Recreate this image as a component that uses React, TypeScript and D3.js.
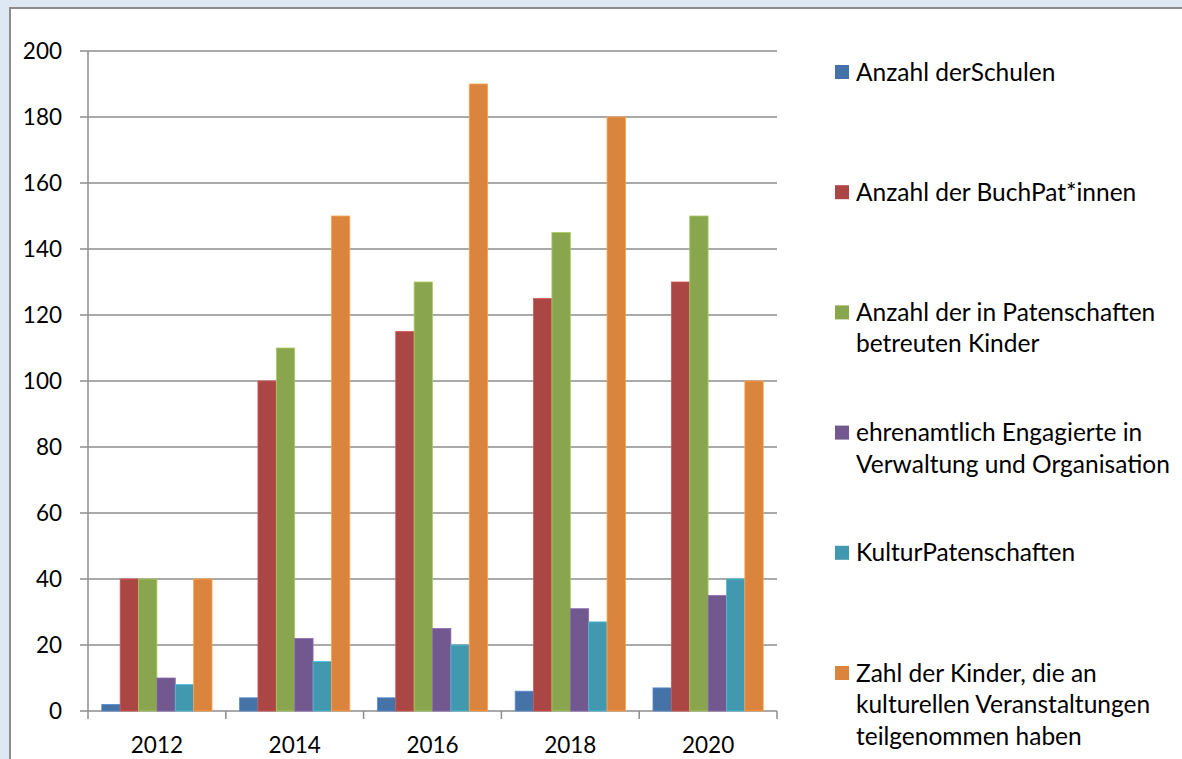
import React, { useRef, useEffect } from 'react';
import * as d3 from 'd3';

const years = ['2012', '2014', '2016', '2018', '2020'];

const seriesNames = [
    ['Anzahl derSchulen'],
    ['Anzahl der BuchPat*innen'],
    ['Anzahl der in Patenschaften', 'betreuten Kinder'],
    ['ehrenamtlich Engagierte in', 'Verwaltung und Organisation'],
    ['KulturPatenschaften'],
    ['Zahl der Kinder, die an', 'kulturellen Veranstaltungen', 'teilgenommen haben'],
];

const seriesColors = ['#4572A7', '#AA4643', '#89A54E', '#71588F', '#4198AF', '#DB843D'];

// one row per series, one value per year
const schulen = [2, 4, 4, 6, 7];
const buchPaten = [40, 100, 115, 125, 130];
const betreuteKinder = [40, 110, 130, 145, 150];
const ehrenamtliche = [10, 22, 25, 31, 35];
const kulturPatenschaften = [8, 15, 20, 27, 40];
const kulturKinder = [40, 150, 190, 180, 100];

const seriesValues = [schulen, buchPaten, betreuteKinder, ehrenamtliche, kulturPatenschaften, kulturKinder];

const yTicks = [0, 20, 40, 60, 80, 100, 120, 140, 160, 180, 200];

const W = 1182;
const H = 759;

const BarChart = () => {
    const svgRef = useRef<SVGSVGElement>(null);

    useEffect(() => {
        const svg = d3.select(svgRef.current);
        svg.selectAll('*').remove();

        const font = 'Lato, "Open Sans", sans-serif';
        const fontSize = 24.5;
        const axisFontSize = 22.5;

        // page background and chart frame
        svg.append('rect').attr('width', W).attr('height', H).attr('fill', '#dde8f3');
        svg.append('rect')
            .attr('x', 10).attr('y', 8)
            .attr('width', W + 20).attr('height', H + 20)
            .attr('fill', '#fff')
            .attr('stroke', '#8c8c8c')
            .attr('stroke-width', 2);

        const left = 88, right = 777, top = 51, bottom = 711;

        const x = d3.scaleBand().domain(years).range([left, right]).paddingInner(0.2).paddingOuter(0.1);
        const xs = d3.scaleBand<number>()
            .domain(d3.range(seriesValues.length))
            .range([0, x.bandwidth()]);
        const y = d3.scaleLinear().domain([0, 200]).range([bottom, top]);

        // gridlines
        svg.append('g')
            .selectAll('line')
            .data(yTicks)
            .join('line')
            .attr('x1', left - 8)
            .attr('x2', right)
            .attr('y1', d => y(d))
            .attr('y2', d => y(d))
            .attr('stroke', '#8c8c8c')
            .attr('stroke-width', 1.5);

        // y axis line
        svg.append('line')
            .attr('x1', left).attr('x2', left)
            .attr('y1', top).attr('y2', bottom)
            .attr('stroke', '#8c8c8c').attr('stroke-width', 1.5);

        // x ticks at band boundaries
        const boundaries = years.map(d => x(d)! - (x.step() - x.bandwidth()) / 2).concat([right]);
        svg.append('g')
            .selectAll('line')
            .data(boundaries)
            .join('line')
            .attr('x1', d => d).attr('x2', d => d)
            .attr('y1', bottom).attr('y2', bottom + 8)
            .attr('stroke', '#8c8c8c').attr('stroke-width', 1.5);

        // y labels
        svg.append('g')
            .selectAll('text')
            .data(yTicks)
            .join('text')
            .attr('x', 62)
            .attr('y', d => y(d))
            .attr('dy', '0.35em')
            .attr('text-anchor', 'end')
            .attr('font-family', font)
            .attr('font-size', axisFontSize)
            .attr('fill', '#000')
            .text(d => d);

        // x labels
        svg.append('g')
            .selectAll('text')
            .data(years)
            .join('text')
            .attr('x', d => x(d)! + x.bandwidth() / 2)
            .attr('y', 745)
            .attr('dy', '0.35em')
            .attr('text-anchor', 'middle')
            .attr('font-family', font)
            .attr('font-size', axisFontSize)
            .attr('fill', '#000')
            .text(d => d);

        // bars
        const groups = svg.append('g')
            .selectAll('g')
            .data(years)
            .join('g')
            .attr('transform', d => `translate(${x(d)},0)`);

        groups.selectAll('rect')
            .data((_, yi) => seriesValues.map((vals, si) => ({ si, v: vals[yi] })))
            .join('rect')
            .attr('x', d => xs(d.si)!)
            .attr('y', d => y(d.v))
            .attr('width', xs.bandwidth())
            .attr('height', d => y(0) - y(d.v))
            .attr('fill', d => seriesColors[d.si])
            .attr('stroke', d => d3.color(seriesColors[d.si])!.brighter(0.6).formatHex())
            .attr('stroke-width', 0.8);

        // legend
        const legend = svg.append('g')
            .selectAll('g')
            .data(seriesNames)
            .join('g')
            .attr('transform', (_, i) => `translate(835,${72 + i * 120.2})`);

        legend.append('rect')
            .attr('x', 0).attr('y', -7)
            .attr('width', 14).attr('height', 14)
            .attr('fill', (_, i) => seriesColors[i]);

        legend.append('text')
            .attr('font-family', font)
            .attr('font-size', fontSize)
            .attr('fill', '#000')
            .selectAll('tspan')
            .data(d => d)
            .join('tspan')
            .attr('x', 21)
            .attr('y', (_, j) => j * 31.5)
            .attr('dy', '0.35em')
            .text(d => d);
    }, []);

    return <svg ref={svgRef} width={W} height={H} style={{ display: 'block' }}></svg>;
};

export default function App() {
    return (
        <div style={{ position: 'fixed', left: 0, top: 0 }}>
            <BarChart />
        </div>
    );
}
